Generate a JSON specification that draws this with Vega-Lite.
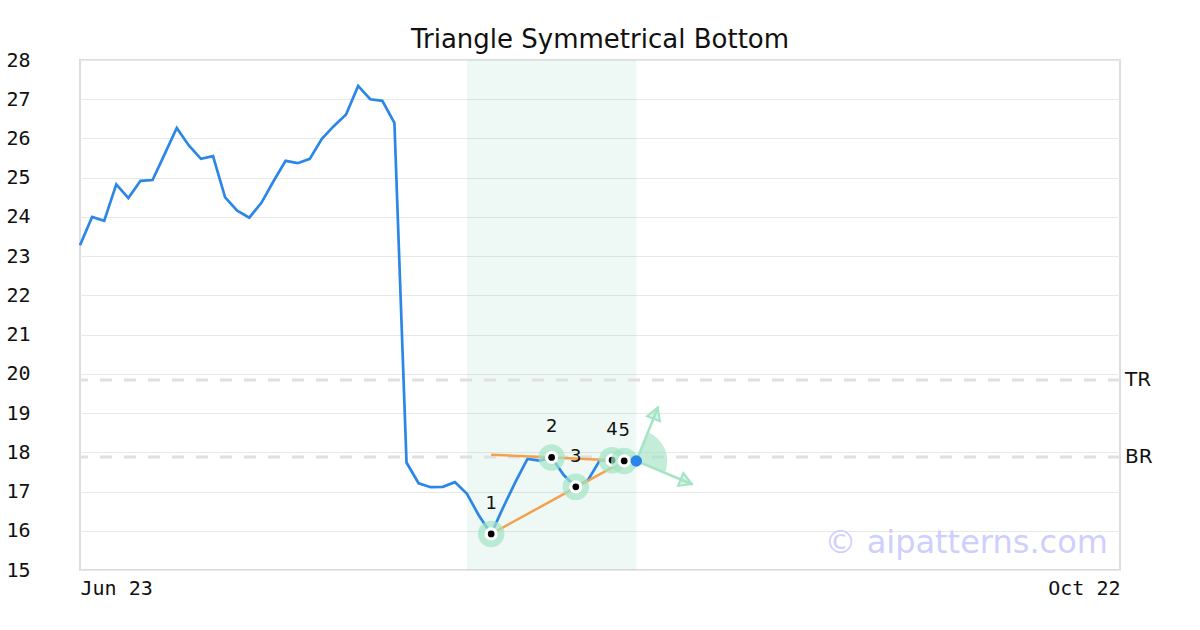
{
  "$schema": "https://vega.github.io/schema/vega-lite/v6.json",
  "width": 1040,
  "height": 510,
  "autosize": {"type": "none"},
  "padding": {"left": 80, "top": 60, "right": 80, "bottom": 60},
  "background": "white",
  "title": {"text": "Triangle Symmetrical Bottom", "font": "DejaVu Sans", "fontSize": 26, "fontWeight": "normal", "color": "#111111", "offset": -3, "anchor": "middle"},
  "config": {
    "view": {"stroke": "#dddddd", "strokeWidth": 2},
    "axis": {"labelFont": "DejaVu Sans Mono", "labelFontSize": 20, "labelColor": "#111111", "domain": false, "ticks": false, "tickSize": 0, "labelOverlap": false},
    "axisY": {"labelPadding": 50, "labelAlign": "right", "tickCount": 14}
  },
  "datasets": {
    "price": [
      {"x": 0, "y": 23.28}, {"x": 1, "y": 24.0}, {"x": 2, "y": 23.9}, {"x": 3, "y": 24.83}, {"x": 4, "y": 24.48},
      {"x": 5, "y": 24.92}, {"x": 6, "y": 24.94}, {"x": 7, "y": 25.6}, {"x": 8, "y": 26.27}, {"x": 9, "y": 25.82},
      {"x": 10, "y": 25.48}, {"x": 11, "y": 25.55}, {"x": 12, "y": 24.5}, {"x": 13, "y": 24.16}, {"x": 14, "y": 23.98},
      {"x": 15, "y": 24.36}, {"x": 16, "y": 24.91}, {"x": 17, "y": 25.43}, {"x": 18, "y": 25.37}, {"x": 19, "y": 25.48},
      {"x": 20, "y": 25.99}, {"x": 21, "y": 26.32}, {"x": 22, "y": 26.61}, {"x": 23, "y": 27.34}, {"x": 24, "y": 27.0},
      {"x": 25, "y": 26.96}, {"x": 26, "y": 26.4}, {"x": 27, "y": 17.74}, {"x": 28, "y": 17.21}, {"x": 29, "y": 17.11},
      {"x": 30, "y": 17.12}, {"x": 31, "y": 17.24}, {"x": 32, "y": 16.94}, {"x": 33, "y": 16.38}, {"x": 34, "y": 15.92},
      {"x": 35, "y": 16.6}, {"x": 36, "y": 17.24}, {"x": 37, "y": 17.83}, {"x": 38, "y": 17.79}, {"x": 39, "y": 17.87},
      {"x": 40, "y": 17.42}, {"x": 41, "y": 17.12}, {"x": 42, "y": 17.29}, {"x": 43, "y": 17.8}, {"x": 44, "y": 17.8},
      {"x": 45, "y": 17.78}, {"x": 46, "y": 17.78}
    ],
    "zone": [{"x": 32, "x2": 46}],
    "levels": [{"y": 19.84, "name": "TR"}, {"y": 17.88, "name": "BR"}],
    "trend": [
      {"seg": "upper", "x": 34, "y": 17.94}, {"seg": "upper", "x": 44, "y": 17.8},
      {"seg": "lower", "x": 34, "y": 15.92}, {"seg": "lower", "x": 45, "y": 17.78}
    ],
    "arrows": [
      {"dir": "up", "x": 46, "y": 17.78, "x2": 47.82, "y2": 19.16, "hx": 47.6, "hy": 19.0},
      {"dir": "down", "x": 46, "y": 17.78, "x2": 50.67, "y2": 17.18, "hx": 50.13, "hy": 17.25}
    ],
    "pivots": [
      {"k": 1, "role": "halo", "x": 34, "y": 15.92}, {"k": 1, "role": "ring", "x": 34, "y": 15.92}, {"k": 1, "role": "dot", "x": 34, "y": 15.92},
      {"k": 2, "role": "halo", "x": 39, "y": 17.87}, {"k": 2, "role": "ring", "x": 39, "y": 17.87}, {"k": 2, "role": "dot", "x": 39, "y": 17.87},
      {"k": 3, "role": "halo", "x": 41, "y": 17.12}, {"k": 3, "role": "ring", "x": 41, "y": 17.12}, {"k": 3, "role": "dot", "x": 41, "y": 17.12},
      {"k": 4, "role": "halo", "x": 44, "y": 17.8}, {"k": 4, "role": "ring", "x": 44, "y": 17.8}, {"k": 4, "role": "dot", "x": 44, "y": 17.8},
      {"k": 5, "role": "halo", "x": 45, "y": 17.78}, {"k": 5, "role": "ring", "x": 45, "y": 17.78}, {"k": 5, "role": "dot", "x": 45, "y": 17.78}
    ],
    "labels": [
      {"label": "1", "x": 34, "y": 15.92}, {"label": "2", "x": 39, "y": 17.87}, {"label": "3", "x": 41, "y": 17.12},
      {"label": "4", "x": 44, "y": 17.8}, {"label": "5", "x": 45, "y": 17.78}
    ],
    "last": [{"x": 46, "y": 17.78}],
    "mark": [{"text": "© aipatterns.com"}]
  },
  "layer": [
    {
      "data": {"name": "zone"},
      "mark": {"type": "rect", "fill": "#5cbf94", "opacity": 0.1},
      "encoding": {
        "x": {"field": "x", "type": "quantitative", "title": null},
        "x2": {"field": "x2"}
      }
    },
    {
      "data": {"name": "levels"},
      "mark": {"type": "rule", "stroke": "#e0e0e0", "strokeWidth": 3, "strokeDash": [12, 12]},
      "encoding": {"y": {"field": "y", "type": "quantitative", "title": null}}
    },
    {
      "data": {"name": "price"},
      "mark": {"type": "line", "stroke": "#2b87e6", "strokeWidth": 2.7},
      "encoding": {
        "x": {"field": "x", "type": "quantitative", "title": null,
          "scale": {"domain": [0, 86], "nice": false, "zero": false},
          "axis": {"title": null, "values": [0, 86], "labelExpr": "datum.value == 0 ? 'Jun 23' : 'Oct 22'", "labelFlush": true, "grid": false, "labelPadding": 8, "labelOverlap": false}},
        "y": {"field": "y", "type": "quantitative", "title": null,
          "scale": {"domain": [15, 28], "nice": false, "zero": false},
          "axis": {"title": null, "values": [15, 16, 17, 18, 19, 20, 21, 22, 23, 24, 25, 26, 27, 28], "tickCount": 14, "grid": true, "gridColor": "#e8e8e8", "gridWidth": 1, "labelPadding": 50, "labelAlign": "right", "labelOverlap": false, "labelBound": false, "labelFlush": false}}
      }
    },
    {
      "data": {"name": "trend"},
      "mark": {"type": "line", "stroke": "#f5a04d", "strokeWidth": 2.5},
      "encoding": {
        "x": {"field": "x", "type": "quantitative", "title": null},
        "y": {"field": "y", "type": "quantitative", "title": null},
        "detail": {"field": "seg"}
      }
    },
    {
      "data": {"name": "last"},
      "mark": {"type": "arc", "theta": 0.37, "theta2": 1.96, "innerRadius": 0, "outerRadius": 31, "fill": "#a3e4c5", "opacity": 0.65},
      "encoding": {
        "x": {"field": "x", "type": "quantitative", "title": null},
        "y": {"field": "y", "type": "quantitative", "title": null}
      }
    },
    {
      "data": {"name": "arrows"},
      "mark": {"type": "rule", "stroke": "#a3e4c5", "strokeWidth": 2.5},
      "encoding": {
        "x": {"field": "x", "type": "quantitative", "title": null},
        "y": {"field": "y", "type": "quantitative", "title": null},
        "x2": {"field": "x2"},
        "y2": {"field": "y2"}
      }
    },
    {
      "data": {"name": "arrows"},
      "transform": [{"filter": "datum.dir == 'up'"}],
      "mark": {"type": "point", "shape": "triangle-up", "angle": 21, "size": 190, "filled": true, "fill": "#a3e4c5", "fillOpacity": 0.45, "stroke": "#a3e4c5", "strokeWidth": 2, "opacity": 1},
      "encoding": {
        "x": {"field": "hx", "type": "quantitative", "title": null},
        "y": {"field": "hy", "type": "quantitative", "title": null}
      }
    },
    {
      "data": {"name": "arrows"},
      "transform": [{"filter": "datum.dir == 'down'"}],
      "mark": {"type": "point", "shape": "triangle-up", "angle": 112, "size": 190, "filled": true, "fill": "#a3e4c5", "fillOpacity": 0.45, "stroke": "#a3e4c5", "strokeWidth": 2, "opacity": 1},
      "encoding": {
        "x": {"field": "hx", "type": "quantitative", "title": null},
        "y": {"field": "hy", "type": "quantitative", "title": null}
      }
    },
    {
      "data": {"name": "pivots"},
      "mark": {"type": "circle", "strokeWidth": 0},
      "encoding": {
        "x": {"field": "x", "type": "quantitative", "title": null},
        "y": {"field": "y", "type": "quantitative", "title": null},
        "size": {"field": "role", "type": "nominal", "scale": {"type": "ordinal", "domain": ["halo", "ring", "dot"], "range": [700, 175, 45]}, "legend": null},
        "color": {"field": "role", "type": "nominal", "scale": {"type": "ordinal", "domain": ["halo", "ring", "dot"], "range": ["#a3e4c5", "#ffffff", "#000000"]}, "legend": null},
        "opacity": {"field": "role", "type": "nominal", "scale": {"type": "ordinal", "domain": ["halo", "ring", "dot"], "range": [0.7, 1, 1]}, "legend": null}
      }
    },
    {
      "data": {"name": "last"},
      "mark": {"type": "circle", "size": 130, "color": "#2a85e8", "opacity": 1},
      "encoding": {
        "x": {"field": "x", "type": "quantitative", "title": null},
        "y": {"field": "y", "type": "quantitative", "title": null}
      }
    },
    {
      "data": {"name": "labels"},
      "mark": {"type": "text", "font": "DejaVu Sans", "fontSize": 18, "color": "#111111", "baseline": "middle", "align": "center", "dy": -30},
      "encoding": {
        "x": {"field": "x", "type": "quantitative", "title": null},
        "y": {"field": "y", "type": "quantitative", "title": null},
        "text": {"field": "label"}
      }
    },
    {
      "data": {"name": "levels"},
      "mark": {"type": "text", "font": "DejaVu Sans", "fontSize": 20, "color": "#111111", "baseline": "middle", "align": "left", "dx": 5},
      "encoding": {
        "x": {"datum": 86, "type": "quantitative", "title": null},
        "y": {"field": "y", "type": "quantitative", "title": null},
        "text": {"field": "name"}
      }
    },
    {
      "data": {"name": "mark"},
      "mark": {"type": "text", "font": "DejaVu Sans", "fontSize": 32, "color": "#cfcffd", "baseline": "alphabetic", "align": "right"},
      "encoding": {
        "x": {"datum": 85, "type": "quantitative", "title": null},
        "y": {"datum": 15.43, "type": "quantitative", "title": null},
        "text": {"field": "text"}
      }
    }
  ]
}
